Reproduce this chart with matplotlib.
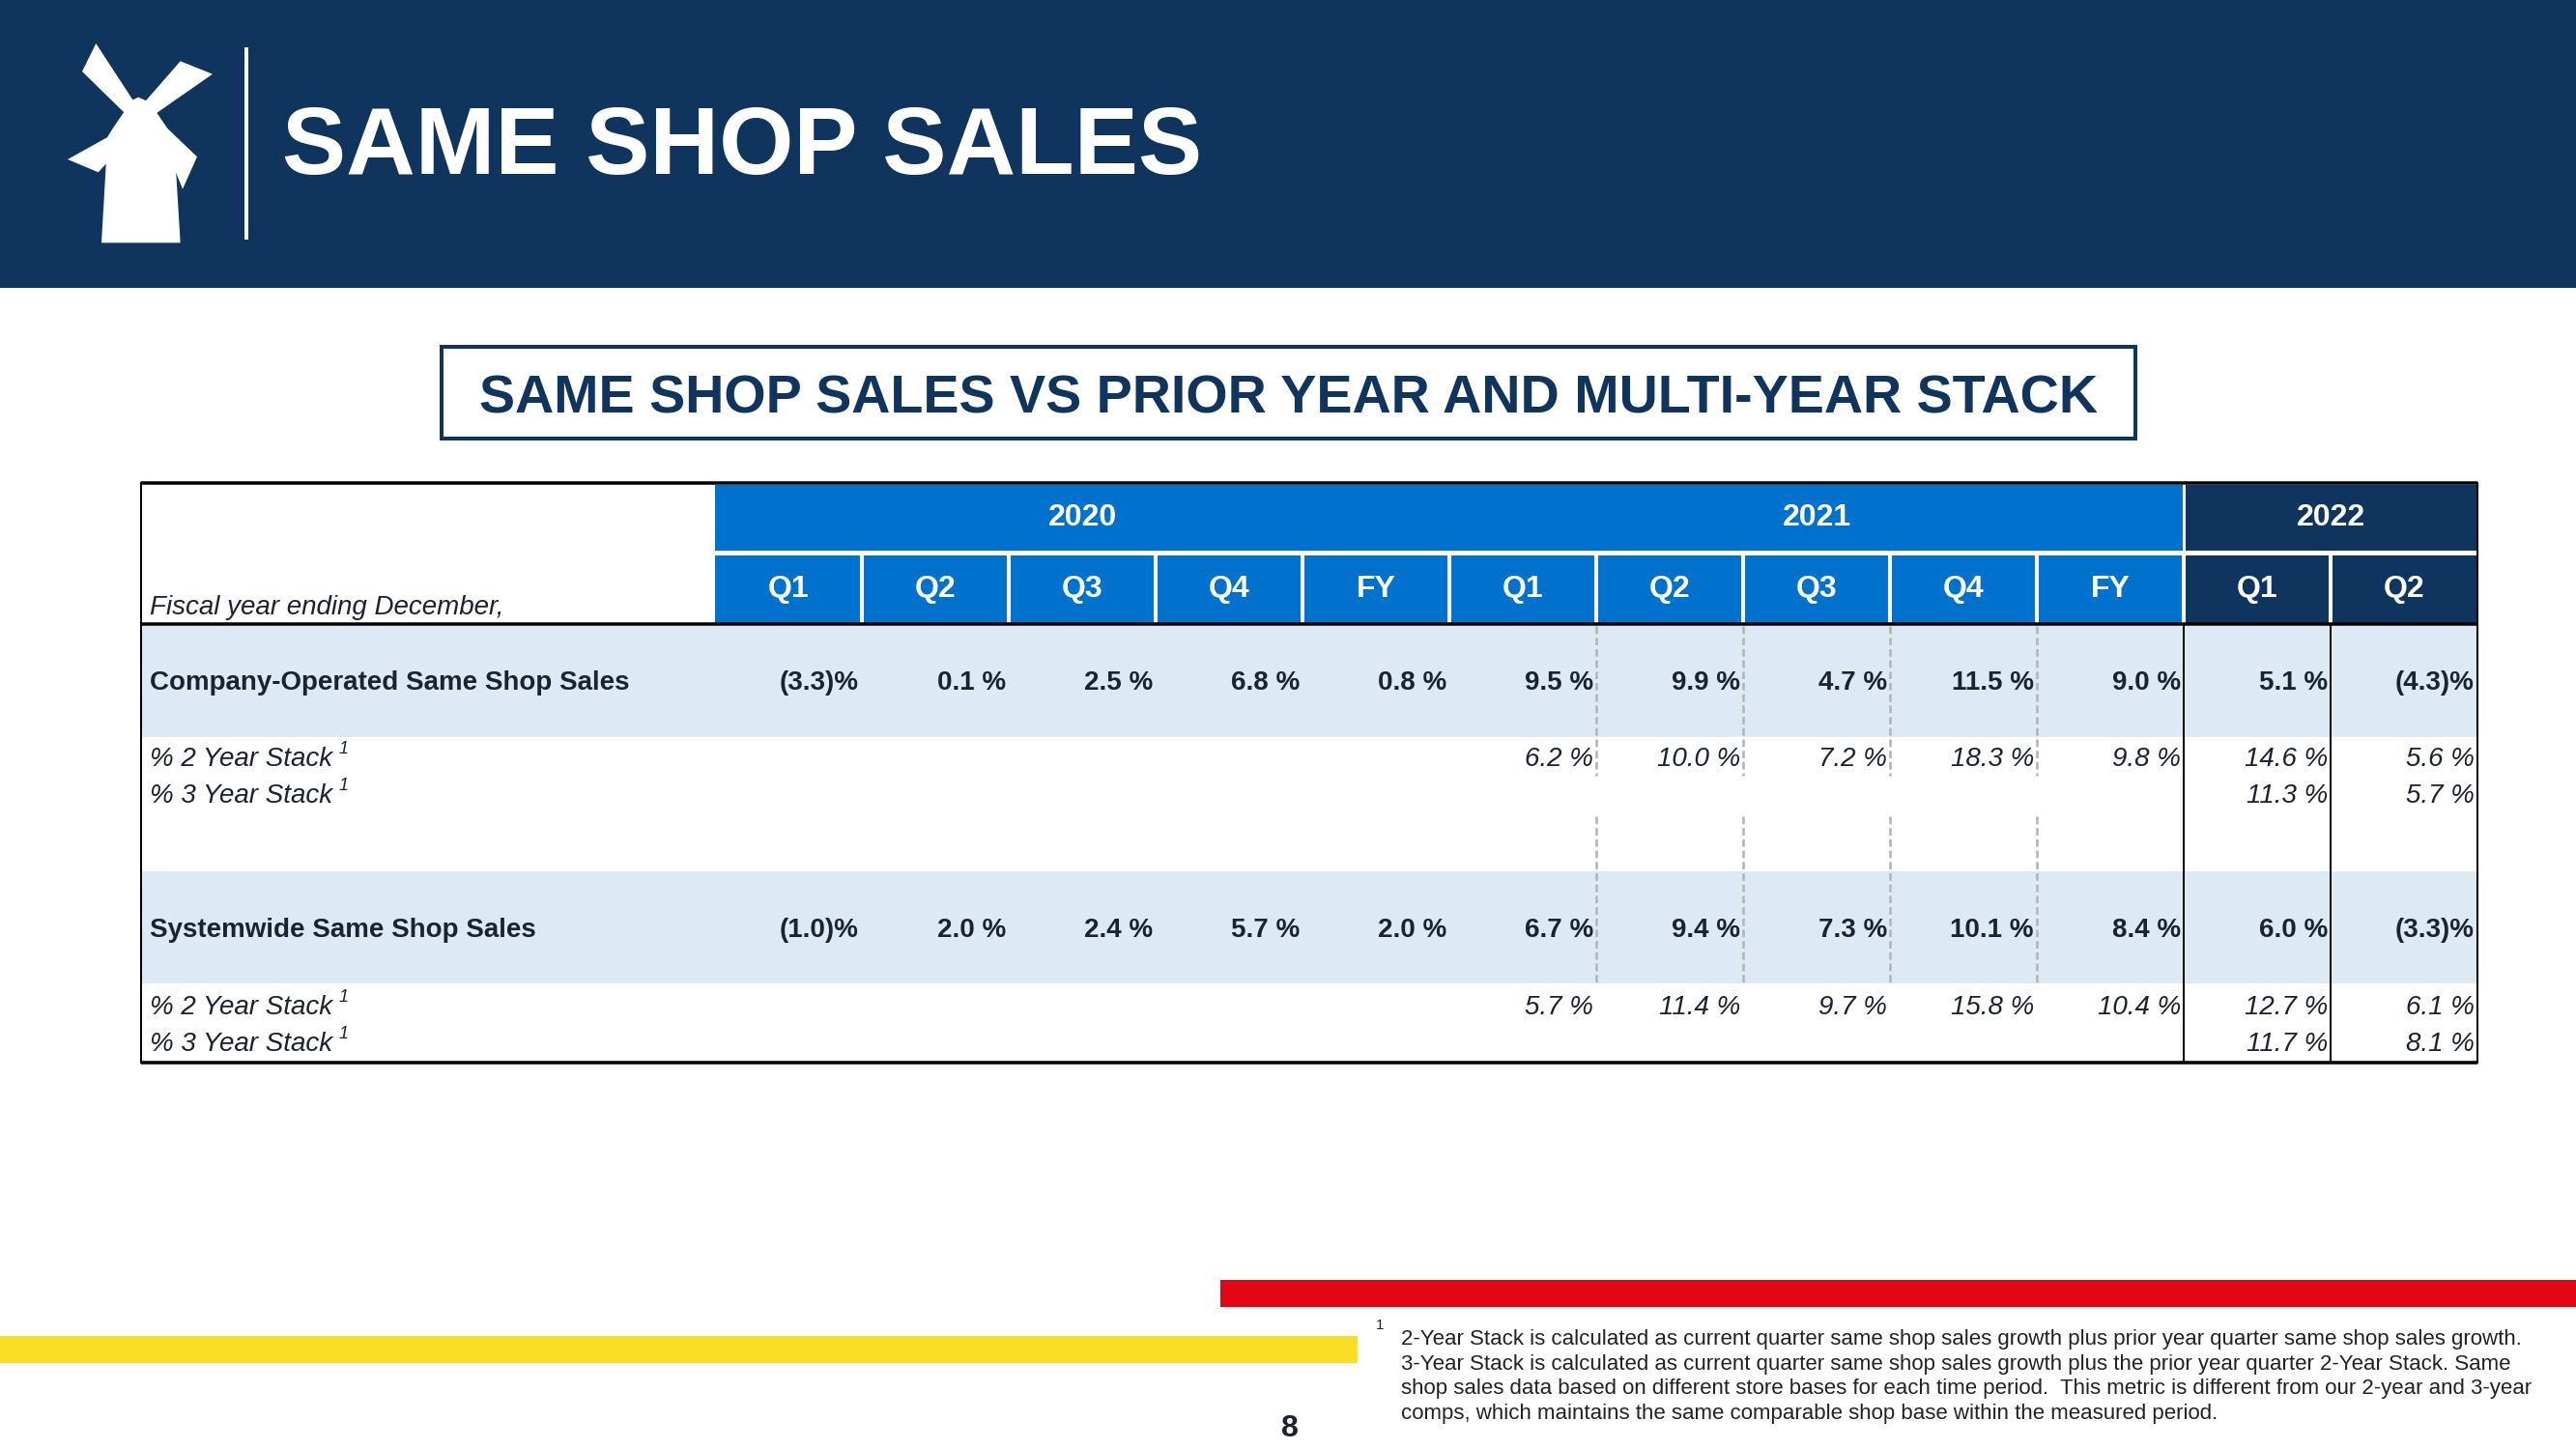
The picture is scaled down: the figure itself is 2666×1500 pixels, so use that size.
import matplotlib
matplotlib.use("Agg")
import matplotlib.pyplot as plt
from matplotlib.patches import Rectangle, Polygon

plt.rcParams['font.family'] = ['Liberation Sans', 'DejaVu Sans']

# ---------------- data ----------------
years = ['2020', '2021', '2022']
year_spans = [5, 5, 2]
periods = ['Q1', 'Q2', 'Q3', 'Q4', 'FY', 'Q1', 'Q2', 'Q3', 'Q4', 'FY', 'Q1', 'Q2']

company = [-3.3, 0.1, 2.5, 6.8, 0.8, 9.5, 9.9, 4.7, 11.5, 9.0, 5.1, -4.3]
company_2yr = [None, None, None, None, None, 6.2, 10.0, 7.2, 18.3, 9.8, 14.6, 5.6]
company_3yr = [None] * 10 + [11.3, 5.7]
system = [-1.0, 2.0, 2.4, 5.7, 2.0, 6.7, 9.4, 7.3, 10.1, 8.4, 6.0, -3.3]
system_2yr = [None, None, None, None, None, 5.7, 11.4, 9.7, 15.8, 10.4, 12.7, 6.1]
system_3yr = [None] * 10 + [11.7, 8.1]

row_labels = ['Company-Operated Same Shop Sales', '% 2 Year Stack', '% 3 Year Stack',
              'Systemwide Same Shop Sales', '% 2 Year Stack', '% 3 Year Stack']
row_values = [company, company_2yr, company_3yr, system, system_2yr, system_3yr]

title = 'SAME SHOP SALES'
subtitle = 'SAME SHOP SALES VS PRIOR YEAR AND MULTI-YEAR STACK'
fiscal_label = 'Fiscal year ending December,'
footnote_lines = [
    '2-Year Stack is calculated as current quarter same shop sales growth plus prior year quarter same shop sales growth.',
    '3-Year Stack is calculated as current quarter same shop sales growth plus the prior year quarter 2-Year Stack. Same',
    'shop sales data based on different store bases for each time period.  This metric is different from our 2-year and 3-year',
    'comps, which maintains the same comparable shop base within the measured period.',
]
page_number = '8'

# ---------------- styling ----------------
W, H = 2666, 1500
DPI = 100
NAVY = '#0F345D'
BLUE = '#0072CE'
BAND = '#DDEAF6'
TXT = '#1B2230'
RED = '#E30613'
YELLOW = '#F9DF24'


def fmt(v):
    if v is None:
        return ''
    if v < 0:
        return '(%.1f)%%' % abs(v)
    return '%.1f %%' % v


fig = plt.figure(figsize=(W / DPI, H / DPI), dpi=DPI)
ax = fig.add_axes([0, 0, 1, 1])
ax.set_xlim(0, W)
ax.set_ylim(H, 0)
ax.axis('off')
renderer = fig.canvas.get_renderer()

def px2pt(px):
    return px * 72.0 / DPI

# ---------------- header band ----------------
ax.add_patch(Rectangle((0, 0), W, 298, facecolor=NAVY, edgecolor='none'))

# windmill logo (decorative)
def L(pts):
    return [(40 + x / 3.0, 30 + y / 3.0) for x, y in pts]

blades = [
    [(135, 132), (178, 45), (300, 232), (268, 262)],
    [(440, 100), (540, 140), (365, 262), (330, 226)],
    [(90, 405), (250, 316), (268, 356), (185, 445)],
    [(380, 290), (492, 397), (447, 497), (392, 362)],
]
for b in blades:
    ax.add_patch(Polygon(L(b), closed=True, facecolor='white', edgecolor='none'))
tower = [(195, 664), (440, 664), (420, 335), (402, 312), (368, 262), (332, 222), (310, 212),
         (288, 222), (262, 262), (228, 312), (214, 335)]
ax.add_patch(Polygon(L(tower), closed=True, facecolor='white', edgecolor='none'))
ax.plot([255, 255], [49, 248], color='white', lw=px2pt(4), solid_capstyle='butt')

ax.text(292, 180, title, color='white', fontsize=71.5, fontweight='bold', ha='left', va='baseline')

# ---------------- subtitle box ----------------
ax.add_patch(Rectangle((457, 359), 2210 - 457, 454 - 359, facecolor='white', edgecolor=NAVY,
                       lw=px2pt(4)))
ax.text((457 + 2210) / 2, 427, subtitle, color=NAVY, fontsize=40.1, fontweight='bold',
        ha='center', va='baseline')

# ---------------- table ----------------
x_left, x_right = 146, 2564
x0, cw = 740, 152
col_edges = [x0 + cw * k for k in range(len(periods) + 1)]
col_edges[-1] = x_right
t_top, t_bot = 500, 1100
h1_top, h1_bot = 502, 570
h2_top, h2_bot = 575, 645
hdr_line = 646

# header row 1 (years)
k = 0
year_colors = [BLUE, BLUE, NAVY]
for yr, span, colr in zip(years, year_spans, year_colors):
    xa, xb = col_edges[k], col_edges[k + span]
    ax.add_patch(Rectangle((xa, h1_top), xb - xa, h1_bot - h1_top, facecolor=colr, edgecolor='none'))
    ax.text((xa + xb) / 2, (h1_top + h1_bot) / 2 + 8, yr, color='white', fontsize=23,
            fontweight='bold', ha='center', va='baseline')
    k += span
# separator between 2021 and 2022 in header row 1
ax.add_patch(Rectangle((col_edges[10] - 1, h1_top), 3, h1_bot - h1_top, facecolor='white', edgecolor='none'))

# header row 2 (periods)
for i, p in enumerate(periods):
    xa = col_edges[i] + (2 if i > 0 else 0)
    xb = col_edges[i + 1] - (2 if i < len(periods) - 1 else 0)
    colr = NAVY if i >= 10 else BLUE
    ax.add_patch(Rectangle((xa, h2_top), xb - xa, h2_bot - h2_top, facecolor=colr, edgecolor='none'))
    ax.text((col_edges[i] + col_edges[i + 1]) / 2, (h2_top + h2_bot) / 2 + 8, p, color='white',
            fontsize=23, fontweight='bold', ha='center', va='baseline')

ax.text(155, 636, fiscal_label, color=TXT, fontsize=20, style='italic', ha='left', va='baseline')

# bands
bands = [(648, 763), (902, 1018)]
for ya, yb in bands:
    ax.add_patch(Rectangle((x_left, ya), x_right - x_left, yb - ya, facecolor=BAND, edgecolor='none'))

# dashed separators in 2021 columns
for i in range(6, 10):
    xe = col_edges[i]
    for ya, yb in [(648, 803), (845, 1018)]:
        ax.plot([xe, xe], [ya, yb], color='#B5B5B5', lw=px2pt(2.6), dashes=(3, 1.5))

# solid separators for 2022 columns
for i in (10, 11):
    ax.plot([col_edges[i], col_edges[i]], [hdr_line, t_bot], color='black', lw=px2pt(2))

# borders
ax.plot([x_left, x_right], [t_top, t_top], color='black', lw=px2pt(3.5), solid_capstyle='butt')
ax.plot([x_left, x_right], [hdr_line, hdr_line], color='black', lw=px2pt(3.5), solid_capstyle='butt')
ax.plot([x_left, x_right], [t_bot, t_bot], color='black', lw=px2pt(3.5), solid_capstyle='butt')
ax.plot([x_left, x_left], [t_top, t_bot], color='black', lw=px2pt(2))
ax.plot([x_right, x_right], [t_top, t_bot], color='black', lw=px2pt(2))

# rows
row_centers = [704, 783, 821, 960, 1040, 1078]
row_bold = [True, False, False, True, False, False]
for label, vals, yc, bold in zip(row_labels, row_values, row_centers, row_bold):
    base = yc + 10
    if bold:
        ax.text(155, base, label, color=TXT, fontsize=20, fontweight='bold', ha='left', va='baseline')
    else:
        t = ax.text(155, base, label, color=TXT, fontsize=20, style='italic', ha='left', va='baseline')
        bb = t.get_window_extent(renderer=renderer)
        ax.text(bb.x1 + 6, base - 13, '1', color=TXT, fontsize=13, style='italic',
                ha='left', va='baseline')
    for i, v in enumerate(vals):
        s = fmt(v)
        if not s:
            continue
        ax.text(col_edges[i + 1] - 3, base, s, color=TXT, fontsize=20,
                fontweight='bold' if bold else 'normal', style='normal' if bold else 'italic',
                ha='right', va='baseline')

# ---------------- footer ----------------
ax.add_patch(Rectangle((1263, 1325), W - 1263, 28, facecolor=RED, edgecolor='none'))
ax.add_patch(Rectangle((0, 1383), 1405, 28, facecolor=YELLOW, edgecolor='none'))
ax.text(1335, 1487, page_number, color=TXT, fontsize=23, fontweight='bold', ha='center', va='baseline')
ax.text(1428, 1376, '1', color='#222222', fontsize=11, ha='center', va='baseline')
for j, line in enumerate(footnote_lines):
    ax.text(1450, 1385 + 25.7 * j + 7, line, color='#222222', fontsize=16.0, ha='left', va='baseline')

fig.savefig('out.png', dpi=DPI)
